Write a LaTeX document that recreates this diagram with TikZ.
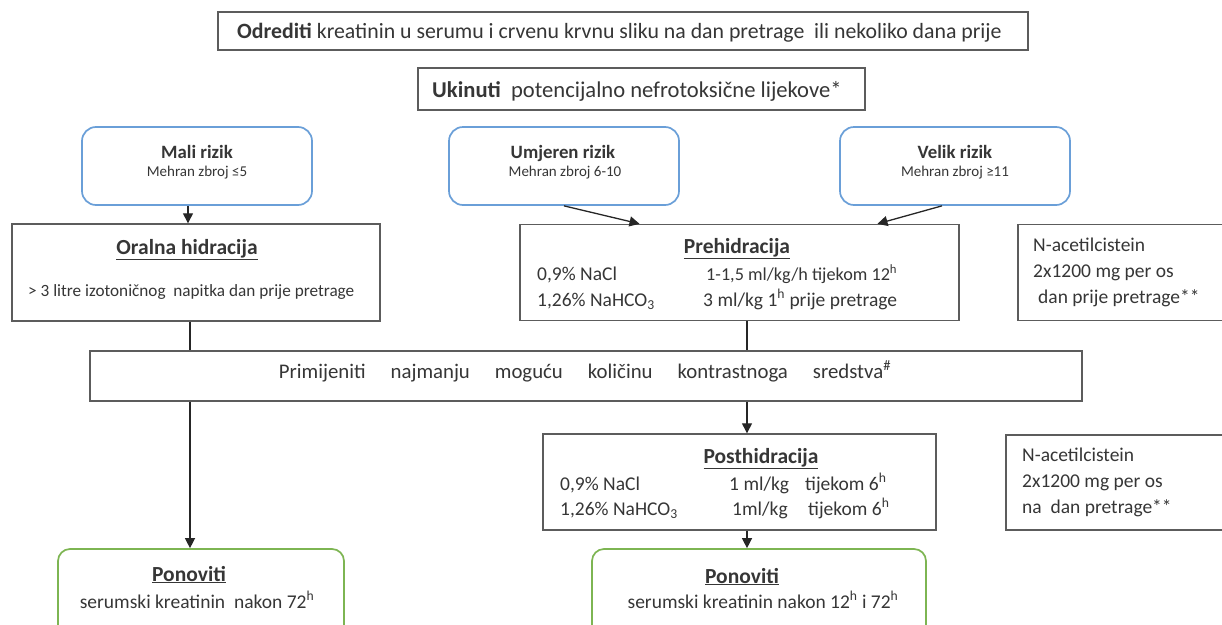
\documentclass[tikz,border=0pt]{standalone}
\usepackage{fontspec}
\setmainfont{Carlito}
\usetikzlibrary{arrows.meta}
\definecolor{ink}{HTML}{363636}
\definecolor{frame}{HTML}{5C5C5C}
\definecolor{riskblue}{HTML}{6A9FD8}
\definecolor{repgreen}{HTML}{7DB552}
\tikzset{
  box/.style={draw=frame, line width=1.4pt, fill=white, inner sep=0pt},
  riskbox/.style={draw=riskblue, line width=1.7pt, rounded corners=14pt, fill=white, inner sep=0pt},
  repbox/.style={draw=repgreen, line width=1.7pt, rounded corners=12pt, fill=white, inner sep=0pt},
  txt/.style={text=ink, inner sep=0pt, font=\fontsize{19.5}{23}\selectfont},
  headtxt/.style={text=ink, inner sep=0pt, font=\fontsize{21.8}{25}\selectfont},
  small/.style={text=ink, inner sep=0pt, font=\fontsize{15}{18}\selectfont},
  risktitle/.style={text=ink, inner sep=0pt, font=\fontsize{18.8}{22}\selectfont\bfseries},
  title/.style={text=ink, inner sep=0pt, font=\fontsize{21.5}{25}\selectfont\bfseries},
  link/.style={draw=black!85, line width=1.3pt},
  arr/.style={link, -{Triangle[length=10pt,width=10pt]}},
}
\newcommand{\hsup}{\textsuperscript{h}}
\newcommand{\gap}{\hspace{25pt}}
\begin{document}
\begin{tikzpicture}[x=1pt,y=-1pt]
\useasboundingbox (0,0) rectangle (1222,624);

% boxes
\node[box, minimum width=810, minimum height=38] (odrediti) at (623,31) {};
\node[box, minimum width=447, minimum height=42] (ukinuti) at (641.5,89) {};
\node[riskbox, minimum width=230, minimum height=78] (mali) at (197,166) {};
\node[riskbox, minimum width=230, minimum height=78] (umjeren) at (564,166) {};
\node[riskbox, minimum width=230, minimum height=78] (velik) at (955,166) {};
\node[box, minimum width=368, minimum height=97] (oral) at (196,272.5) {};
\node[box, minimum width=439, minimum height=96] (preh) at (739.5,272.5) {};
\node[box, minimum width=222, minimum height=96] (nacA) at (1129,272.5) {};
\node[box, minimum width=992, minimum height=50] (kontrast) at (586,376) {};
\node[box, minimum width=393, minimum height=96] (posth) at (739.5,482) {};
\node[box, minimum width=234, minimum height=95] (nacB) at (1123,482.5) {};
\node[repbox, minimum width=286, minimum height=91] (ponA) at (201,594.5) {};
\node[repbox, minimum width=334, minimum height=91] (ponB) at (759,594.5) {};

% texts
\node[headtxt, anchor=base west] (t1) at (237,38)
  {\textbf{Odrediti} kreatinin u serumu i crvenu krvnu sliku na dan pretrage\ \ ili nekoliko dana prije};
\node[headtxt, anchor=base west, font=\fontsize{22.6}{26}\selectfont] (t2) at (432,97)
  {\textbf{Ukinuti}\ \ potencijalno nefrotoksične lijekove*};

\node[risktitle, anchor=base] (maliT) at (197,158) {Mali rizik};
\node[small, anchor=base] (maliS) at (197,176) {Mehran zbroj ≤5};
\node[risktitle, anchor=base] (umjT) at (563,158) {Umjeren rizik};
\node[small, anchor=base] (umjS) at (565,176) {Mehran zbroj 6-10};
\node[risktitle, anchor=base] (velT) at (955,158) {Velik rizik};
\node[small, anchor=base] (velS) at (955,176) {Mehran zbroj ≥11};

\node[title, anchor=base] (oralT) at (187,254) {\underline{Oralna hidracija}};
\node[txt, anchor=base west, font=\fontsize{17.2}{20}\selectfont] (oralL) at (28,296)
  {> 3 litre izotoničnog\ \ napitka dan prije pretrage};

\node[title, anchor=base] (prehT) at (737,253) {\underline{Prehidracija}};
\node[txt, anchor=base west] (prehA) at (537,280) {0,9\% NaCl};
\node[txt, anchor=base west, font=\fontsize{18.2}{22}\selectfont] (prehB) at (706,280) {1-1,5 ml/kg/h tijekom 12\hsup};
\node[txt, anchor=base west] (prehC) at (537,306) {1,26\% NaHCO\textsubscript{3}};
\node[txt, anchor=base west] (prehD) at (703,306) {3 ml/kg 1\hsup{} prije pretrage};

\node[txt, anchor=base west] (nacA1) at (1033,251) {N-acetilcistein};
\node[txt, anchor=base west] (nacA2) at (1033,277) {2x1200 mg per os};
\node[txt, anchor=base west] (nacA3) at (1038,303) {dan prije pretrage**};

\node[txt, anchor=base, font=\fontsize{20.8}{24}\selectfont] (kontrastT) at (585,378)
  {Primijeniti\gap najmanju\gap moguću\gap količinu\gap kontrastnoga\gap sredstva\textsuperscript{\#}};

\node[title, anchor=base] (posthT) at (761,463) {\underline{Posthidracija}};
\node[txt, anchor=base west] (posthA) at (560,490) {0,9\% NaCl};
\node[txt, anchor=base west] (posthB) at (729,490) {1 ml/kg};
\node[txt, anchor=base west] (posthC) at (805,490) {tijekom 6\hsup};
\node[txt, anchor=base west] (posthD) at (560,515) {1,26\% NaHCO\textsubscript{3}};
\node[txt, anchor=base west] (posthE) at (732,515) {1ml/kg};
\node[txt, anchor=base west] (posthF) at (808,515) {tijekom 6\hsup};

\node[txt, anchor=base west] (nacB1) at (1022,461) {N-acetilcistein};
\node[txt, anchor=base west] (nacB2) at (1022,487) {2x1200 mg per os};
\node[txt, anchor=base west] (nacB3) at (1022,513) {na\ \ dan pretrage**};

\node[title, anchor=base] (ponAT) at (189,581) {\underline{Ponoviti}};
\node[txt, anchor=base] (ponAL) at (197,608) {serumski kreatinin\ \ nakon 72\hsup};
\node[title, anchor=base] (ponBT) at (742,583) {\underline{Ponoviti}};
\node[txt, anchor=base] (ponBL) at (763,608) {serumski kreatinin nakon 12\hsup{} i 72\hsup};

% connectors
\draw[arr] ([xshift=-9pt]mali.south) -- ([xshift=-9pt]mali.south |- oral.north);
\draw[arr] (umjeren.south) -- ([xshift=-100pt]preh.north);
\draw[arr] ([xshift=-13pt]velik.south) -- ([xshift=138pt]preh.north);
\draw[link] ([xshift=-6pt]oral.south) -- ([xshift=-6pt]oral.south |- kontrast.north);
\draw[link] ([xshift=7.5pt]preh.south) -- ([xshift=7.5pt]preh.south |- kontrast.north);
\draw[arr] ([xshift=-396pt]kontrast.south) -- ([xshift=-396pt]kontrast.south |- ponA.north);
\draw[arr] ([xshift=161pt]kontrast.south) -- ([xshift=161pt]kontrast.south |- posth.north);
\draw[arr] ([xshift=7.5pt]posth.south) -- ([xshift=7.5pt]posth.south |- ponB.north);
\end{tikzpicture}
\end{document}
